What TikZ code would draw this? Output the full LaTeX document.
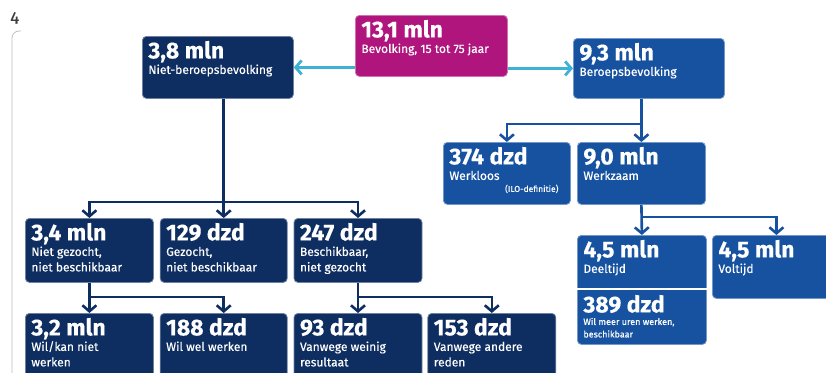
\documentclass[tikz,border=0pt]{standalone}
\usepackage{fontspec}
\setmainfont{Fira Sans}
\newfontfamily\subfont{Fira Sans}[FakeBold=0.4]
\usetikzlibrary{arrows.meta}

\definecolor{cbsnavy}{RGB}{14,45,96}
\definecolor{cbsblauw}{RGB}{22,82,160}
\definecolor{cbsmagenta}{RGB}{176,20,125}
\definecolor{cbscyaan}{RGB}{62,178,214}

\newcommand{\kop}[1]{{\fontsize{23}{23}\selectfont\bfseries\rule{0pt}{22pt}#1\par}}
\newcommand{\kader}[3]{\parbox[t][#2pt][t]{#1pt}{\raggedright\subfont\fontsize{12}{15.5}\selectfont #3}}

\tikzset{blok/.style={anchor=north west, rounded corners=4pt, text=white, inner xsep=6pt, inner ysep=0pt, draw=#1!60!white, line width=0.8pt, fill=#1}}
\tikzset{tak/.style={draw=#1, line width=2.6pt}}
\tikzset{pijl/.style={draw=cbscyaan, line width=2.8pt, ->}}

\begin{document}
\begin{tikzpicture}[x=1pt, y=-1pt, >={Straight Barb[length=6pt,width=14pt]}]
    \useasboundingbox (0,0) rectangle (826,372);
    \clip (0,0) rectangle (826,372);

    \node[anchor=north west, text=black!75, inner sep=0pt, font=\subfont\fontsize{17}{17}\selectfont] (pnr) at (10,12) {4};
    \draw[black!25, line width=0.8pt, rounded corners=7pt] (12,380) -- (12,31) -- (21,31);

    % bovenste rij
    \node[blok=cbsmagenta] (bev) at (355,15) {\kader{140}{61}{\kop{13,1 mln}Bevolking, 15 tot 75 jaar}};
    \node[blok=cbsnavy] (nb) at (142,36) {\kader{139}{62}{\kop{3,8 mln}Niet-beroepsbevolking}};
    \node[blok=cbsblauw] (bb) at (573,38) {\kader{139}{60}{\kop{9,3 mln}Beroepsbevolking}};

    \draw[pijl] (bev.west |- nb.east) -- (nb.east);
    \draw[pijl] (bev.east |- bb.west) -- (bb.west);

    % niet-beroepsbevolking
    \node[blok=cbsnavy] (ngnb) at (25,218) {\kader{116}{64}{\kop{3,4 mln}Niet gezocht,\\niet beschikbaar}};
    \node[blok=cbsnavy] (gnb) at ([xshift=6pt]ngnb.north east) {\kader{115}{64}{\kop{129 dzd}Gezocht,\\niet beschikbaar}};
    \node[blok=cbsnavy] (bng) at ([xshift=6pt]gnb.north east) {\kader{116}{64}{\kop{247 dzd}Beschikbaar,\\niet gezocht}};

    \node[blok=cbsnavy] (wkn) at (25,313) {\kader{116}{70}{\kop{3,2 mln}Wil/kan niet\\werken}};
    \node[blok=cbsnavy] (www) at ([xshift=6pt]wkn.north east) {\kader{115}{70}{\kop{188 dzd}Wil wel werken}};
    \node[blok=cbsnavy] (vwr) at ([xshift=6pt]www.north east) {\kader{116}{70}{\kop{93 dzd}Vanwege weinig\\resultaat}};
    \node[blok=cbsnavy] (var) at ([xshift=5pt]vwr.north east) {\kader{116}{70}{\kop{153 dzd}Vanwege andere\\reden}};

    \draw[tak=cbsnavy, ->] (nb.south -| gnb.north) -- (gnb.north);
    \draw[tak=cbsnavy, <->] (ngnb.north) |- ([yshift=16pt]gnb.north) -| (bng.north);
    \draw[tak=cbsnavy, ->] (ngnb.south) -- (wkn.north);
    \draw[tak=cbsnavy, ->] ([yshift=16pt]wkn.north) -| (www.north);
    \draw[tak=cbsnavy, ->] (bng.south) -- (vwr.north);
    \draw[tak=cbsnavy, ->] ([yshift=16pt]vwr.north) -| (var.north);

    % beroepsbevolking
    \node[blok=cbsblauw] (wl) at (443,142) {\kader{115}{62}{\kop{374 dzd}Werkloos\par{\raggedleft\fontsize{8.5}{12}\selectfont(ILO-definitie)\hspace*{6pt}\par}}};
    \node[blok=cbsblauw] (wz) at (577,142) {\kader{116}{62}{\kop{9,0 mln}Werkzaam}};
    \node[blok=cbsblauw] (dt) at (577,235) {\kader{117}{109}{\kop{4,5 mln}Deeltijd\par\vspace{14pt}\kop{389 dzd}{\fontsize{9}{12.5}\selectfont Wil meer uren werken,\\beschikbaar\par}}};
    \node[blok=cbsblauw] (vt) at (712,235) {\kader{116}{63}{\kop{4,5 mln}Voltijd}};
    \draw[white, line width=1.5pt] ([yshift=-54pt]dt.north west) -- ([yshift=-54pt]dt.north east);

    \draw[tak=cbsblauw, ->] (bb.south -| wz.north) -- (wz.north);
    \draw[tak=cbsblauw, ->] ([yshift=18pt]wz.north) -| (wl.north);
    \draw[tak=cbsblauw, ->] (wz.south) -- (dt.north);
    \draw[tak=cbsblauw, ->] ([yshift=18pt]dt.north) -| (vt.north);
\end{tikzpicture}
\end{document}
